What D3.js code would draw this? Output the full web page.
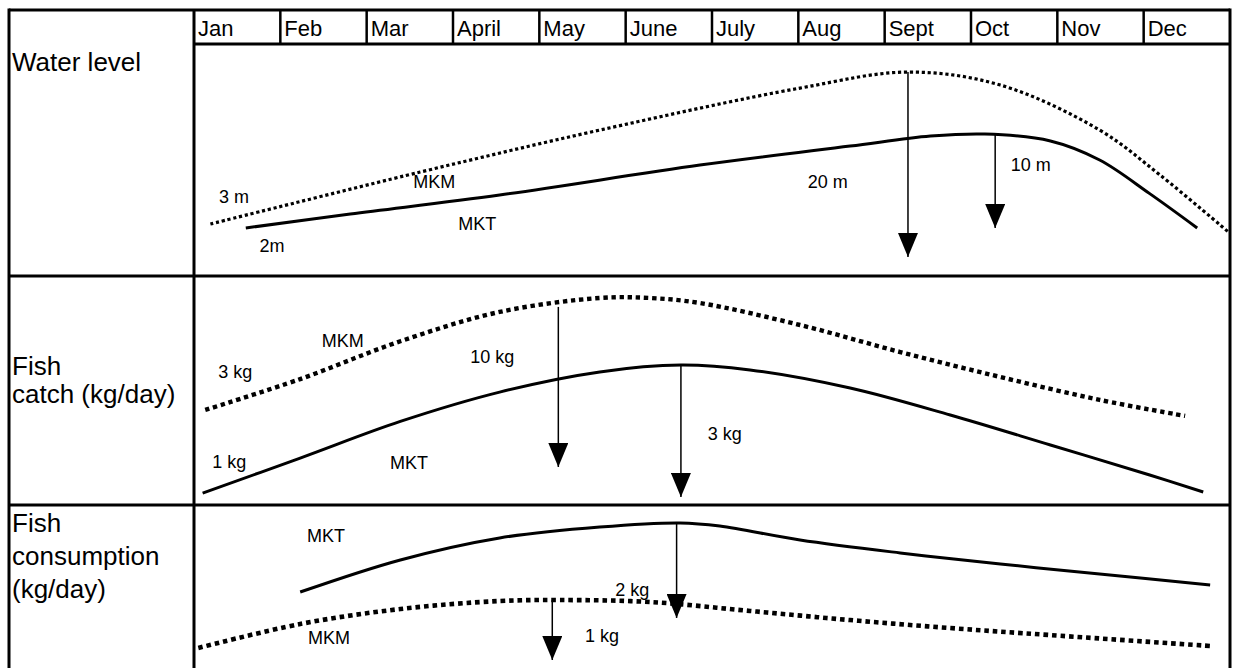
<!DOCTYPE html>
<html>
<head>
<meta charset="utf-8">
<script src="https://cdn.jsdelivr.net/npm/d3@7"></script>
<style>
  html, body { margin: 0; padding: 0; background: #fff; }
  svg { display: block; }
  text { font-family: "Liberation Sans", Arial, sans-serif; fill: #000; }
</style>
</head>
<body>
<svg id="chart" width="1234" height="668"></svg>
<script>
// ---------- data ----------
const months = ["Jan", "Feb", "Mar", "April", "May", "June", "July", "Aug", "Sept", "Oct", "Nov", "Dec"];
const rowLabels = [["Water level"], ["Fish", "catch (kg/day)"], ["Fish", "consumption", "(kg/day)"]];

// [month position, relative level 0-100 within the panel]
const waterMKM = [[0.19, 22.4], [2.62, 44.8], [4.70, 62.9], [7.02, 81.0], [8.27, 87.9], [9.34, 82.3], [10.49, 62.9], [11.19, 43.5], [11.98, 19.0]];
const waterMKT = [[0.60, 20.7], [1.81, 26.7], [3.54, 34.9], [5.86, 47.8], [7.60, 56.0], [8.53, 60.3], [9.16, 61.2], [9.92, 58.2], [10.49, 50.0], [11.07, 35.5], [11.62, 20.7]];
const catchMKM = [[0.13, 41.5], [1.23, 55.0], [2.39, 71.5], [3.54, 84.3], [4.70, 90.4], [5.28, 90.4], [5.86, 88.2], [7.02, 78.6], [8.18, 66.8], [9.34, 55.9], [10.49, 45.9], [11.48, 38.9]];
const catchMKT = [[0.10, 5.2], [1.23, 20.5], [2.39, 36.5], [3.54, 49.3], [4.70, 58.1], [5.64, 61.1], [6.44, 59.0], [7.60, 51.1], [8.76, 39.3], [9.92, 26.2], [11.07, 13.1], [11.69, 5.7]];
const consMKT = [[1.23, 46.6], [2.39, 66.3], [3.54, 79.8], [4.70, 86.5], [5.63, 89.0], [6.09, 87.1], [7.02, 78.5], [8.18, 70.6], [9.34, 63.8], [10.49, 57.7], [11.77, 50.9]];
const consMKM = [[0.05, 12.3], [1.23, 27.0], [2.39, 36.2], [3.54, 41.1], [4.24, 41.7], [5.28, 40.5], [6.44, 35.0], [7.60, 29.4], [8.76, 24.5], [9.92, 20.2], [11.77, 13.5]];

// arrows: [month position, from level, to level]
const waterArrows = [[8.27, 87.9, 8.2], [9.28, 61.2, 20.7]];
const catchArrows = [[4.22, 86.5, 16.6], [5.64, 60.7, 3.5]];
const consArrows = [[5.59, 89.0, 30.7], [4.15, 41.7, 4.9]];

// annotations: [month position, level, text]
const waterNotes = [[0.29, 34.1, "3 m"], [0.76, 13.0, "2m"], [2.54, 40.5, "MKM"], [3.06, 22.4, "MKT"], [7.11, 40.5, "20 m"], [9.46, 47.8, "10 m"]];
const catchNotes = [[1.48, 71.5, "MKM"], [0.28, 58.1, "3 kg"], [3.20, 64.6, "10 kg"], [0.21, 18.8, "1 kg"], [2.27, 18.3, "MKT"], [5.95, 31.0, "3 kg"]];
const consNotes = [[1.31, 81.0, "MKT"], [4.88, 47.9, "2 kg"], [1.32, 18.4, "MKM"], [4.53, 19.6, "1 kg"]];

(function () {
// ---------- layout ----------
const W = 1234, H = 668;
const leftX = 9, labelSep = 194, rightX = 1230, topY = 10, headBottom = 44;
const rowBounds = [[44, 276], [276, 505], [505, 668]];
const labelFont = 26, monthFont = 22, noteFont = 18;

const svg = d3.select("#chart");
const x = d3.scaleLinear().domain([0, 12]).range([labelSep, rightX]);
const band = d3.scaleBand().domain(months).range([labelSep, rightX]);

const defs = svg.append("defs");
defs.append("marker")
  .attr("id", "ah").attr("markerUnits", "userSpaceOnUse")
  .attr("viewBox", "0 0 20 24").attr("refX", 10).attr("refY", 24)
  .attr("markerWidth", 20).attr("markerHeight", 24).attr("orient", "0")
  .append("path").attr("d", "M0,0 L20,0 L10,24 Z").attr("fill", "#000");

const panels = [
  { series: [[waterMKM, true], [waterMKT, false]], arrows: waterArrows, notes: waterNotes, dotW: 3.2 },
  { series: [[catchMKM, true], [catchMKT, false]], arrows: catchArrows, notes: catchNotes, dotW: 4.4 },
  { series: [[consMKT, false], [consMKM, true]], arrows: consArrows, notes: consNotes, dotW: 4.6 }
];

panels.forEach((p, i) => {
  const [y0, y1] = rowBounds[i];
  const y = d3.scaleLinear().domain([0, 100]).range([y1, y0]);
  const line = d3.line().x(d => x(d[0])).y(d => y(d[1])).curve(d3.curveCatmullRom.alpha(0.5));
  const g = svg.append("g");
  p.series.forEach(([data, dotted]) => {
    g.append("path").datum(data)
      .attr("d", line)
      .attr("fill", "none").attr("stroke", "#000")
      .attr("stroke-width", dotted ? p.dotW : 3)
      .attr("stroke-dasharray", dotted ? `${p.dotW},${p.dotW * 0.85}` : null);
  });
  p.arrows.forEach(a => {
    g.append("line")
      .attr("x1", x(a[0])).attr("y1", y(a[1]))
      .attr("x2", x(a[0])).attr("y2", y(a[2]))
      .attr("stroke", "#000").attr("stroke-width", 1.5)
      .attr("marker-end", "url(#ah)");
  });
  p.notes.forEach(n => {
    g.append("text")
      .attr("x", x(n[0])).attr("y", y(n[1]))
      .attr("dominant-baseline", "central")
      .attr("font-size", noteFont)
      .text(n[2]);
  });
});

const frame = svg.append("g").attr("stroke", "#000").attr("fill", "none");
frame.append("line").attr("x1", leftX).attr("x2", leftX).attr("y1", topY - 1.5).attr("y2", H + 5).attr("stroke-width", 3);
frame.append("line").attr("x1", rightX).attr("x2", rightX).attr("y1", topY - 1.5).attr("y2", H + 5).attr("stroke-width", 3);
frame.append("line").attr("x1", labelSep).attr("x2", labelSep).attr("y1", topY).attr("y2", H + 5).attr("stroke-width", 3);
frame.append("line").attr("x1", leftX).attr("x2", rightX).attr("y1", topY).attr("y2", topY).attr("stroke-width", 3);
frame.append("line").attr("x1", labelSep).attr("x2", rightX).attr("y1", headBottom).attr("y2", headBottom).attr("stroke-width", 3);
rowBounds.slice(1).forEach(r => {
  frame.append("line").attr("x1", leftX).attr("x2", rightX).attr("y1", r[0]).attr("y2", r[0]).attr("stroke-width", 3);
});
months.slice(1).forEach(m => {
  frame.append("line").attr("x1", band(m)).attr("x2", band(m)).attr("y1", topY).attr("y2", headBottom).attr("stroke-width", 2.5);
});

svg.append("g").selectAll("text").data(months).join("text")
  .attr("x", d => band(d) + 4).attr("y", (topY + headBottom) / 2 + 1)
  .attr("dominant-baseline", "central")
  .attr("font-size", monthFont)
  .text(d => d);

const labelTops = [62, 366, 523];
const lineGaps = [0, 28, 33];
rowLabels.forEach((lines, i) => {
  lines.forEach((t, j) => {
    svg.append("text")
      .attr("x", 12).attr("y", labelTops[i] + j * lineGaps[i])
      .attr("dominant-baseline", "central")
      .attr("font-size", labelFont)
      .text(t);
  });
});
})();
</script>
</body>
</html>
